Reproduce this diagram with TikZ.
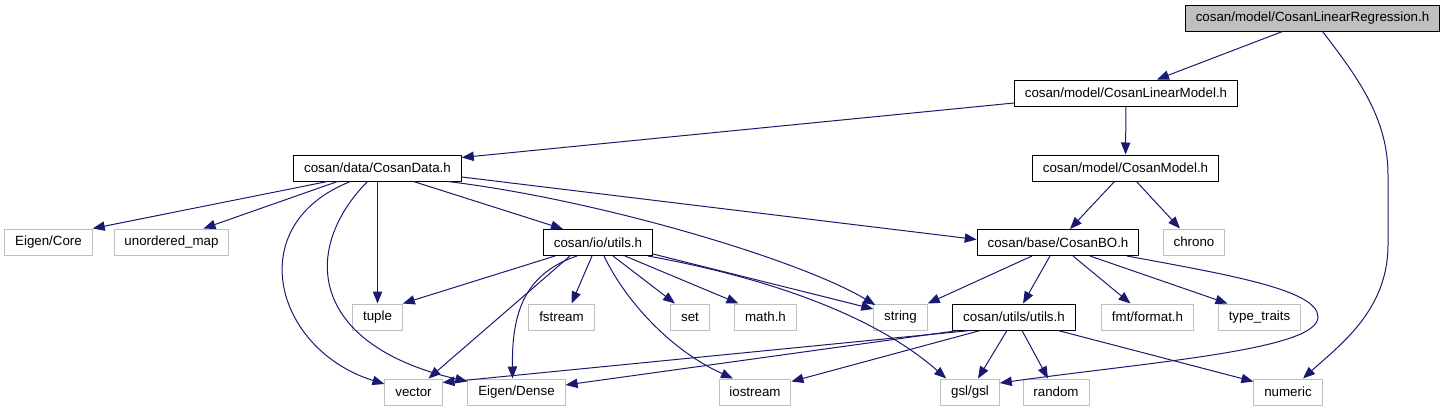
\documentclass[tikz,border=0pt]{standalone}
\usepackage{fontspec}
\setmainfont{Liberation Sans}
\usetikzlibrary{calc}
\usetikzlibrary{arrows.meta}
\definecolor{edgeblue}{HTML}{191970}
\definecolor{extgrey}{HTML}{BFBFBF}
\tikzset{
  hdr/.style={draw=black, line width=0.75pt, inner xsep=7.8pt, inner ysep=0pt,
    minimum height=19.5pt, font=\fontsize{10}{12}\selectfont},
  ext/.style={hdr, draw=extgrey},
  incl/.style={draw=edgeblue, line width=0.75pt,
    -{Triangle[length=9pt,width=7pt,fill=edgeblue]}},
}
\newcommand{\inc}[2]{\draw[incl] (#1) -- (#2);}

\begin{document}
\begin{tikzpicture}[x=0.75pt, y=-0.75pt]
            \useasboundingbox (0,0) rectangle (1443,411);
            % level 0
            \node[hdr, fill=extgrey] (root) at (1312.5,18) {cosan/model/CosanLinearRegression.h};
            % level 1
            \node[hdr] (linmodel) at (1126,93) {cosan/model/CosanLinearModel.h};
            % level 2
            \node[hdr] (data) at (377.5,168) {cosan/data/CosanData.h};
            \node[hdr] (model) at (1125.5,168) {cosan/model/CosanModel.h};
            % level 3
            \node[ext] (eigcore) at (48.5,242) {Eigen/Core};
            \node[ext] (umap) at (171.5,242) {unordered\_map};
            \node[hdr] (io) at (598,242.5) {cosan/io/utils.h};
            \node[hdr] (bo) at (1058,242.5) {cosan/base/CosanBO.h};
            \node[ext] (chrono) at (1194,242) {chrono};
            % level 4
            \node[ext] (tuple) at (377.5,317) {tuple};
            \node[ext] (fstream) at (561.5,317) {fstream};
            \node[ext] (set) at (690,317) {set};
            \node[ext] (math) at (765.5,317) {math.h};
            \node[ext] (string) at (900.5,317) {string};
            \node[hdr] (utils) at (1014,317) {cosan/utils/utils.h};
            \node[ext] (fmt) at (1147.5,317) {fmt/format.h};
            \node[ext] (traits) at (1259.5,317) {type\_traits};
            % level 5
            \node[ext] (vector) at (413.5,392) {vector};
            \node[ext] (dense) at (516.5,392) {Eigen/Dense};
            \node[ext] (iostream) at (755,392) {iostream};
            \node[ext] (gsl) at (970,392) {gsl/gsl};
            \node[ext] (random) at (1056,392) {random};
            \node[ext] (numeric) at (1288,392) {numeric};
            % from root
            \draw[incl] ($(root.south)+(-30,0)$) -- ($(linmodel.north)+(31,0)$);
            \draw[incl] ($(root.south)+(10,0)$) .. controls (1360,80) and (1388,120) .. (1388,175)
                -- (1388,245) .. controls (1388,310) and (1340,345) .. ($(numeric.north)+(15,0)$);
            % from linear model
            \draw[incl] ($(linmodel.west)+(0,10)$) -- ($(data.north east)+(0,3)$);
            \inc{linmodel}{model}
            % from model
            \draw[incl] ($(model.south)+(-11,0)$) -- ($(bo.north)+(12,0)$);
            \draw[incl] ($(model.south)+(11,0)$) -- ($(chrono.north)+(-14,0)$);
            % from data
            \draw[incl] ($(data.south)+(-50,0)$) -- (eigcore.north east);
            \draw[incl] ($(data.south)+(-40,0)$) -- ($(umap.north)+(32,0)$);
            \draw[incl] ($(data.south)+(-27,0)$) .. controls (240,225) and (275,350) .. ($(vector.west)+(0,-8)$);
            \draw[incl] ($(data.south)+(-10,0)$) .. controls (300,250) and (310,345) .. ($(dense.north west)+(0,3)$);
            \inc{data}{tuple}
            \draw[incl] ($(data.south)+(36,0)$) -- ($(io.north west)+(20,0)$);
            \draw[incl] ($(data.south east)+(-14,0)$) .. controls (600,200) and (800,260) .. ($(string.west)+(2,-12)$);
            \draw[incl] ($(data.east)+(0,9)$) -- ($(bo.west)+(0,-3)$);
            % from io utils
            \draw[incl] ($(io.south west)+(12,0)$) -- (tuple.north east);
            \draw[incl] ($(io.south west)+(27,0)$) -- ($(vector.north)+(15,0)$);
            \draw[incl] ($(io.south west)+(34,0)$) .. controls (520,275) and (512,320) .. ($(dense.north)+(-4,0)$);
            \draw[incl] ($(io.south)+(-6,0)$) -- ($(fstream.north)+(10,0)$);
            \draw[incl] ($(io.south)+(6,0)$) .. controls (625,300) and (670,350) .. ($(iostream.north)+(-22,0)$);
            \draw[incl] ($(io.south)+(15,0)$) -- ($(set.north)+(-15,0)$);
            \draw[incl] ($(io.south)+(27,0)$) -- ($(math.north)+(-27,0)$);
            \draw[incl] ($(io.south east)+(0,-2)$) -- ($(string.west)+(0,-8)$);
            \draw[incl] ($(io.south east)+(-5,0)$) .. controls (780,280) and (880,320) .. ($(gsl.north west)+(6,0)$);
            % from base
            \draw[incl] ($(bo.south)+(-26,0)$) -- (string.north east);
            \draw[incl] ($(bo.south)+(-8,0)$) -- ($(utils.north)+(9,0)$);
            \draw[incl] ($(bo.south)+(15,0)$) -- ($(fmt.north)+(-17,0)$);
            \draw[incl] ($(bo.south)+(32,0)$) -- ($(traits.north)+(-32,0)$);
            \draw[incl] ($(bo.south)+(69,0)$) .. controls (1230,275) and (1318,290) .. (1318,317)
                .. controls (1318,350) and (1150,362) .. ($(gsl.east)+(0,-9)$);
            % from utils utils
            \draw[incl] ($(utils.south west)+(18,0)$) -- ($(vector.north east)+(0,4)$);
            \draw[incl] ($(utils.south west)+(6,0)$) -- ($(dense.east)+(0,-7)$);
            \draw[incl] ($(utils.south west)+(28,0)$) -- ($(iostream.north east)+(0,3)$);
            \draw[incl] ($(utils.south)+(-7,0)$) -- ($(gsl.north)+(8,0)$);
            \draw[incl] ($(utils.south)+(8,0)$) -- ($(random.north)+(-8,0)$);
            \draw[incl] ($(utils.south)+(44,0)$) -- ($(numeric.north west)+(0,3)$);
        \end{tikzpicture}
\end{document}
